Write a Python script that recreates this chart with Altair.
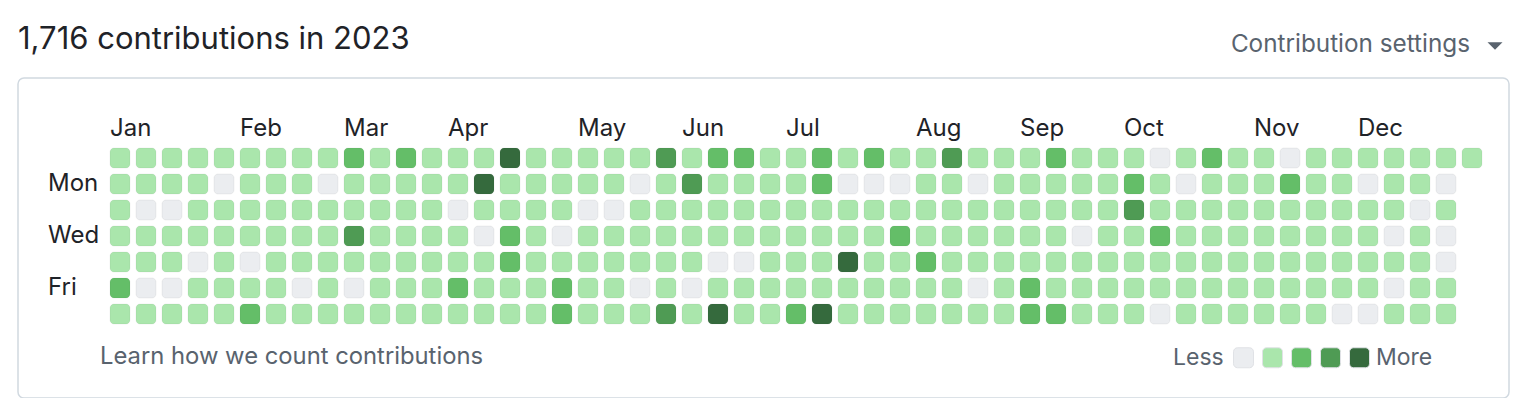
import altair as alt
import pandas as pd

FONT = "Inter"

# contribution levels (0 = none ... 4 = most), one list per weekday, 53 weeks of 2023
sun = [1,1,1,1,1,1,1,1,1,2,1,2, 1,1,1,4,1,1,1,1,1,3,1,2,2,1, 1,2,1,2,1,1,3,1,1,1,2,1,1, 1,0,1,2,1,1,0,1,1,1,1,1,1,1]
mon = [1,1,1,1,0,1,1,1,0,1,1,1, 1,1,4,1,1,1,1,1,0,1,3,1,1,1, 1,2,0,0,0,1,1,0,1,1,1,1,1, 2,1,0,1,1,1,2,1,1,0,1,1,0]
tue = [1,0,0,1,1,1,1,1,1,1,1,1, 1,0,1,1,1,1,0,0,1,1,1,1,1,1, 1,1,1,1,1,1,1,1,1,1,1,1,1, 3,1,1,1,1,1,1,1,1,1,1,0,1]
wed = [1,1,1,1,1,1,1,1,1,3,1,1, 1,1,0,2,1,0,1,1,1,1,1,1,1,1, 1,1,1,1,2,1,1,1,1,1,1,0,1, 1,2,1,1,1,1,1,1,1,1,0,1,0]
thu = [1,1,1,0,1,0,1,1,1,1,1,1, 1,1,1,2,1,1,1,1,1,1,1,0,0,1, 1,1,4,1,1,2,1,1,1,1,1,1,1, 1,1,1,1,1,1,1,1,1,1,1,1,0]
fri = [2,0,0,1,1,1,1,0,1,0,1,1, 1,2,1,1,1,2,1,1,0,1,0,1,1,1, 1,1,1,1,1,1,1,0,1,2,1,1,1, 1,1,1,1,1,1,1,1,1,1,0,1,1]
sat = [1,1,1,1,1,2,1,1,1,1,1,1, 1,1,1,1,1,2,1,1,1,3,1,4,1,1, 2,4,1,1,1,1,1,1,1,2,2,1,1, 1,0,1,1,1,1,1,1,0,0,1,1,1]
rows = [sun, mon, tue, wed, thu, fri, sat]

month_names = ["Jan", "Feb", "Mar", "Apr", "May", "Jun", "Jul", "Aug", "Sep", "Oct", "Nov", "Dec"]
month_weeks = [0, 5, 9, 13, 18, 22, 26, 31, 35, 39, 44, 48]
day_labels = ["Mon", "Wed", "Fri"]
day_label_rows = [1, 3, 5]
level_values = [0, 1, 2, 3, 4]
level_colors = ["#ebedf0", "#aae6ac", "#64be68", "#4f9b54", "#356a3d"]
title_text = ["1,716 contributions in 2023"]
settings_text = ["Contribution settings"]
learn_text = ["Learn how we count contributions"]

cells = pd.DataFrame(
    [{"week": k, "day": r, "level": v} for r, row in enumerate(rows) for k, v in enumerate(row)]
)
months = pd.DataFrame({"name": month_names, "week": month_weeks})
days = pd.DataFrame({"name": day_labels, "day": day_label_rows})

xscale = alt.Scale(domain=[0, 52], range=[102, 1454])
yscale = alt.Scale(domain=[0, 6], range=[80, 236])

rounded_sq = ("M-1,-0.6 A0.4,0.4 0 0 1 -0.6,-1 L0.6,-1 A0.4,0.4 0 0 1 1,-0.6 "
              "L1,0.6 A0.4,0.4 0 0 1 0.6,1 L-0.6,1 A0.4,0.4 0 0 1 -1,0.6 Z")

cell_layer = alt.Chart(cells).mark_rect(
    width=20, height=20, cornerRadius=4, stroke="#1f2328", strokeOpacity=0.06, strokeWidth=1
).encode(
    x=alt.X("week:Q", scale=xscale, axis=None),
    y=alt.Y("day:Q", scale=yscale, axis=None),
    color=alt.Color(
        "level:O",
        scale=alt.Scale(domain=level_values, range=level_colors),
        legend=alt.Legend(
            orient="none", legendX=1155, legendY=268, direction="horizontal",
            title="Less", titleOrient="left", titleFont=FONT, titleFontSize=23,
            titleFontWeight="normal", titleColor="#59636e", titlePadding=8,
            titleBaseline="middle",
            labelExpr="datum.label == '4' ? 'More' : ''", labelFont=FONT,
            labelFontSize=23, labelColor="#59636e", labelOffset=5, columnPadding=0,
            symbolType=rounded_sq, symbolSize=400, symbolStrokeColor="#e0e2e6",
            symbolStrokeWidth=1, symbolOpacity=1, padding=0,
        ),
    ),
)

month_layer = alt.Chart(months).mark_text(
    align="left", baseline="middle", dx=-10, font=FONT, fontSize=24, color="#1f2328"
).encode(
    x=alt.X("week:Q", scale=xscale, axis=None),
    y=alt.value(51),
    text="name:N",
)

day_layer = alt.Chart(days).mark_text(
    align="left", baseline="middle", font=FONT, fontSize=24, color="#1f2328"
).encode(
    x=alt.value(30),
    y=alt.Y("day:Q", scale=yscale, axis=None),
    text="name:N",
)

title_layer = alt.Chart(pd.DataFrame({"t": title_text})).mark_text(
    align="left", baseline="middle", font=FONT, fontSize=31, color="#1f2328"
).encode(x=alt.value(0), y=alt.value(-38), text="t:N")

settings_layer = alt.Chart(pd.DataFrame({"t": settings_text})).mark_text(
    align="right", baseline="middle", font=FONT, fontSize=24.3, color="#59636e"
).encode(x=alt.value(1452), y=alt.value(-33), text="t:N")

caret_layer = alt.Chart(pd.DataFrame({"t": settings_text})).mark_point(
    shape="M-1,-0.5 L1,-0.5 L0,0.5 Z", size=225, filled=True, color="#59636e", opacity=1
).encode(x=alt.value(1477), y=alt.value(-32))

learn_layer = alt.Chart(pd.DataFrame({"t": learn_text})).mark_text(
    align="left", baseline="middle", font=FONT, fontSize=23.8, color="#59636e"
).encode(x=alt.value(82), y=alt.value(279), text="t:N")

chart = alt.layer(
    cell_layer, month_layer, day_layer, title_layer, settings_layer, caret_layer, learn_layer
).properties(
    width=1491, height=320,
    padding={"left": 10, "top": 70, "right": 5, "bottom": 0},
    autosize=alt.AutoSizeParams(type="none"),
).configure_view(
    stroke="#d1d9e0", cornerRadius=6, strokeWidth=1.5
)

chart.save("out.html", embed_options={"renderer": "svg", "actions": False})
